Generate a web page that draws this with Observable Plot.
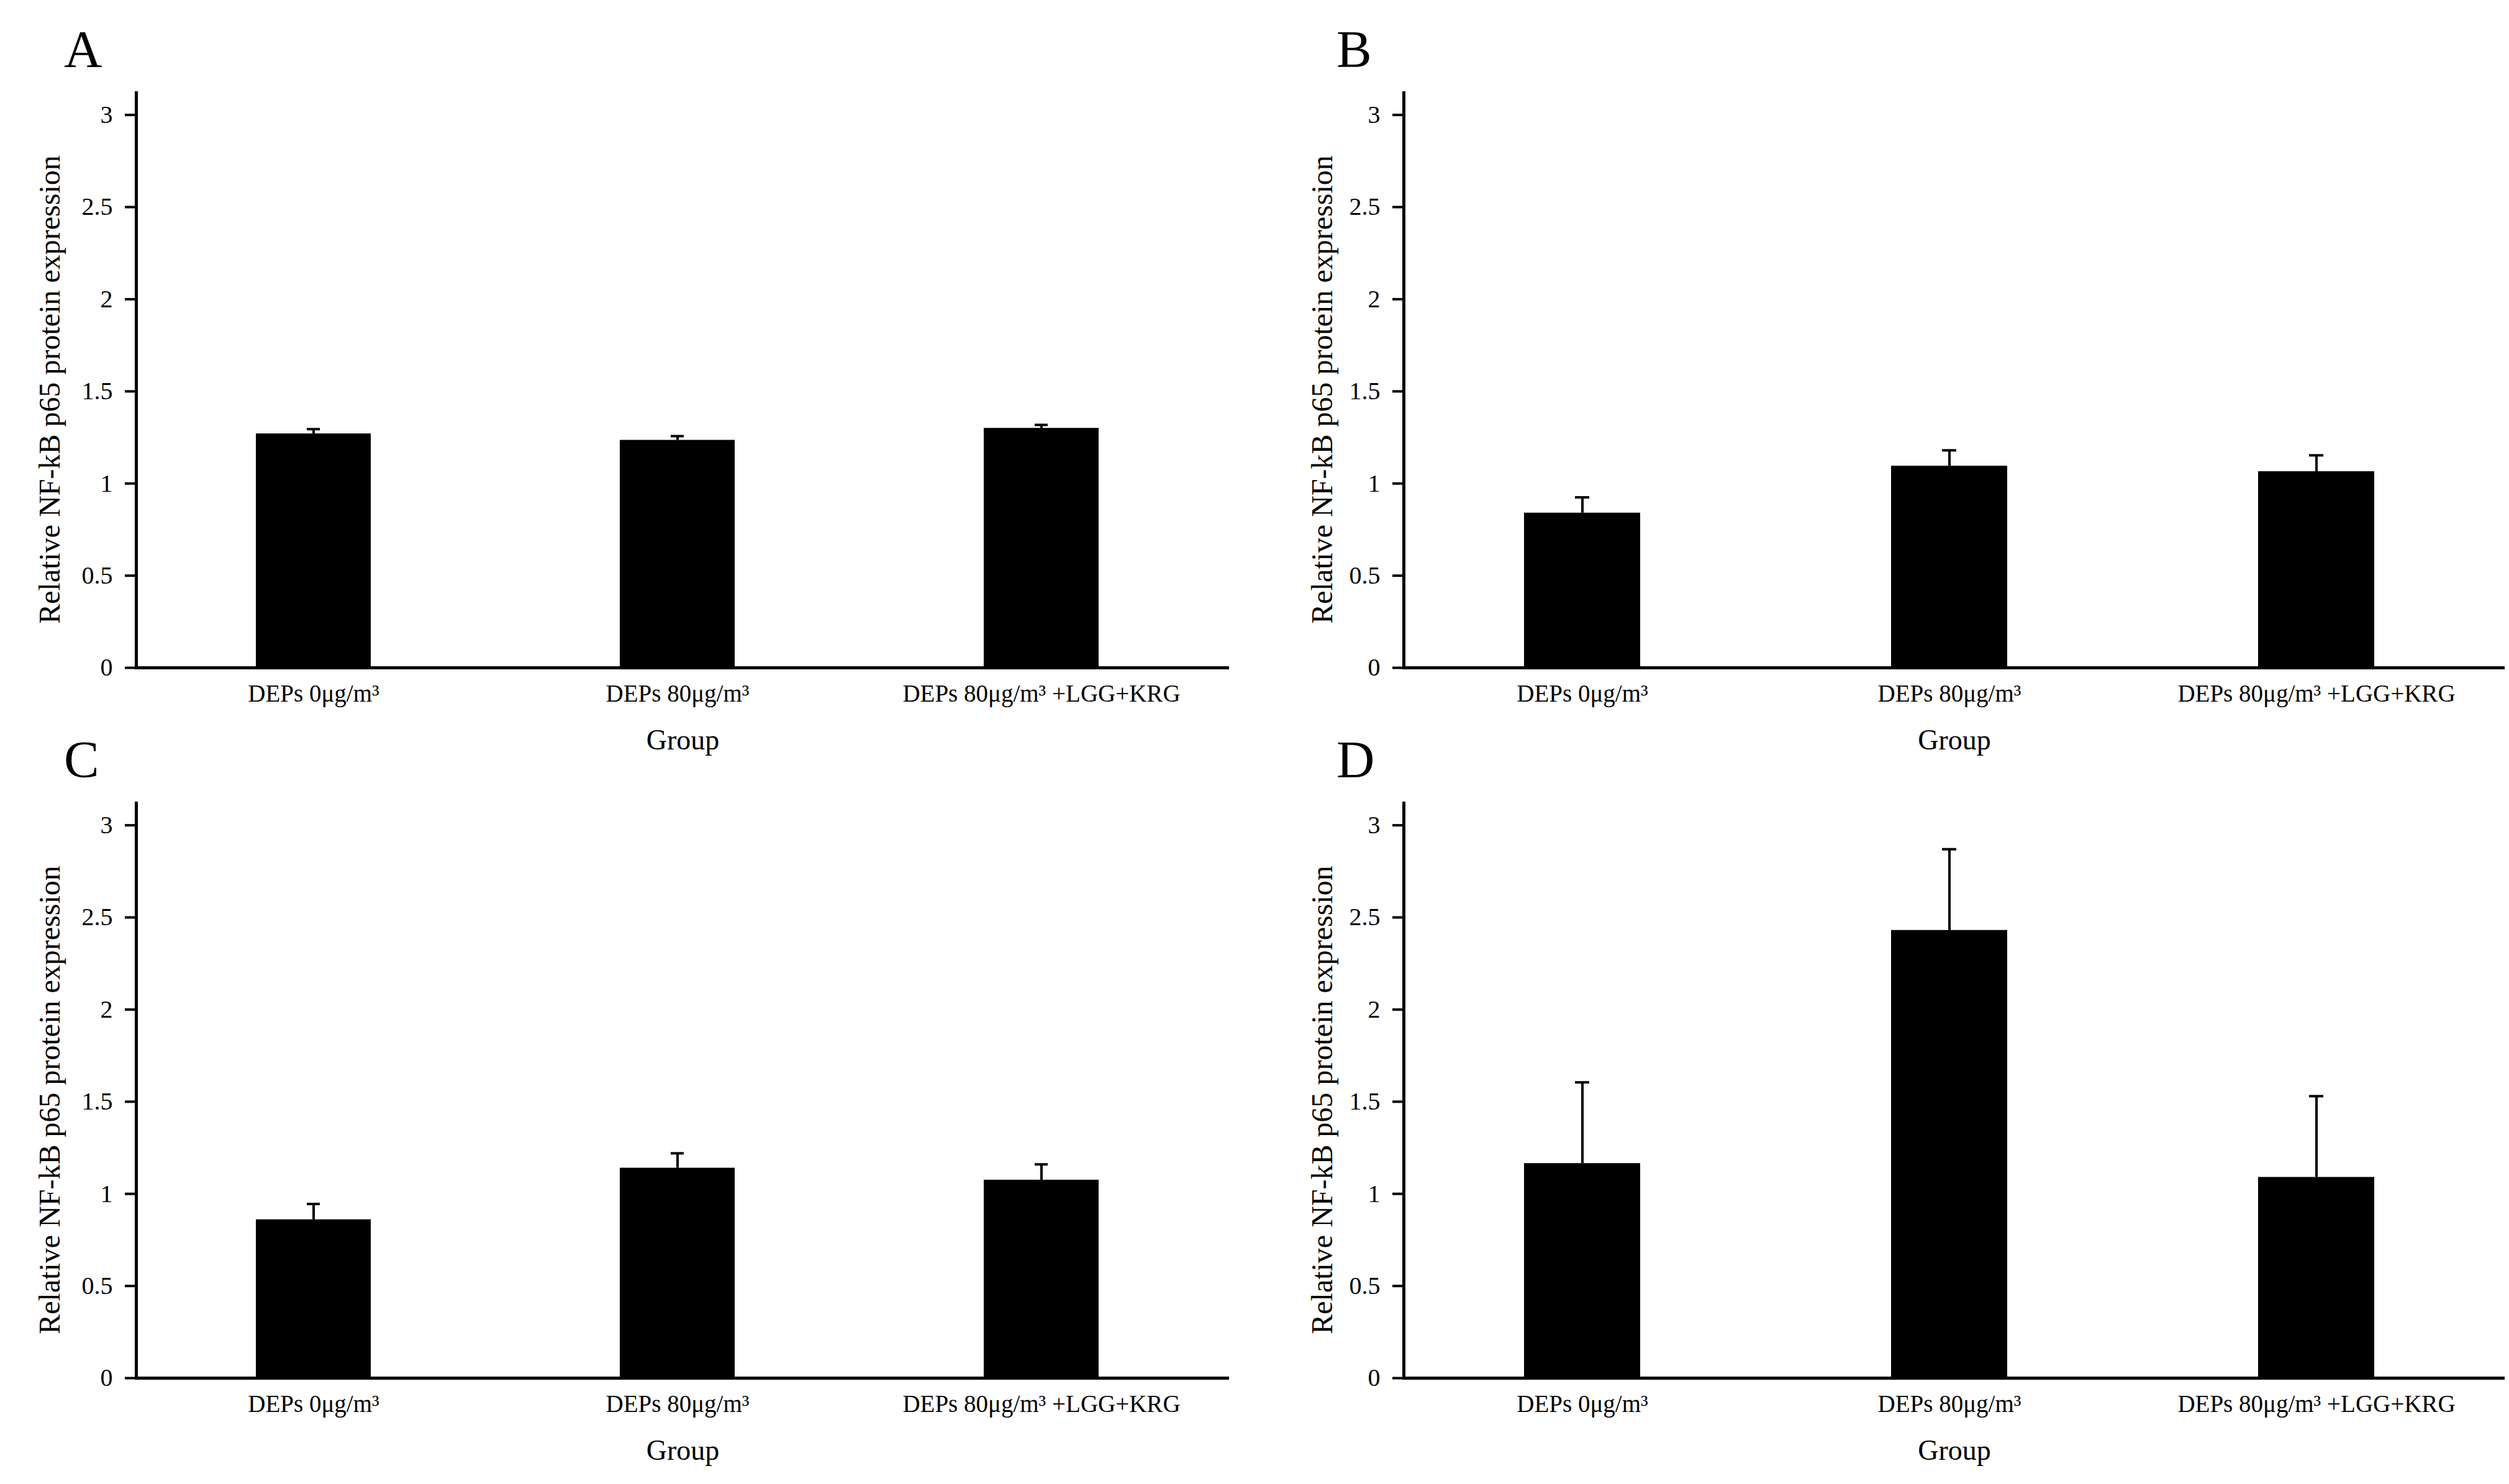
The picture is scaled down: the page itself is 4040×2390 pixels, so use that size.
<!DOCTYPE html>
<html>
<head>
<meta charset="utf-8">
<script src="https://cdn.jsdelivr.net/npm/d3@7"></script>
<script src="https://cdn.jsdelivr.net/npm/@observablehq/plot@0.6"></script>
<style>
  html, body { margin: 0; padding: 0; background: white; }
  #page { position: relative; width: 4040px; height: 2390px; background: white; color: black; font-family: "Liberation Serif", serif; overflow: hidden; }
  .panel { position: absolute; }
  .letter { position: absolute; font-size: 85px; line-height: 1; font-family: "Liberation Serif", serif; z-index: 2; }
</style>
</head>
<body>
<div id="page"></div>
<script>
// ---- data ----
const groups = ["DEPs 0μg/m³", "DEPs 80μg/m³", "DEPs 80μg/m³ +LGG+KRG"];
const yTicks = [0, 0.5, 1, 1.5, 2, 2.5, 3];
const yLabel = "Relative NF-kB p65 protein expression";
const xLabel = "Group";
const panelLetters = ["A", "B", "C", "D"];

const meanA = [1.27, 1.235, 1.30];
const sdA   = [0.025, 0.022, 0.018];
const meanB = [0.84, 1.095, 1.065];
const sdB   = [0.085, 0.085, 0.088];
const meanC = [0.86, 1.14, 1.075];
const sdC   = [0.085, 0.08, 0.085];
const meanD = [1.165, 2.43, 1.09];
const sdD   = [0.44, 0.44, 0.44];

const seriesMeans = [meanA, meanB, meanC, meanD];
const seriesSds = [sdA, sdB, sdC, sdD];

// ---- layout ----
const page = document.getElementById("page");
const fmt = d3.format("~g");

function makePanel(means, sds, isRight) {
  const data = groups.map((g, i) => ({ group: g, mean: means[i], top: means[i] + sds[i] }));
  const marginLeft = isRight ? 240 : 219;
  const marginRight = isRight ? 7 : 41;
  return Plot.plot({
    width: 2020,
    height: 1110,
    marginTop: 29,
    marginBottom: 155,
    marginLeft,
    marginRight,
    style: { fontFamily: "Liberation Serif, serif", color: "black", background: "transparent", overflow: "visible" },
    x: { domain: groups, paddingInner: 0.684, paddingOuter: 0.342, align: 0.48, axis: null },
    y: { domain: [0, 3.12], axis: null },
    marks: [
      Plot.barY(data, { x: "group", y: "mean", fill: "black" }),
      Plot.ruleX(data, { x: "group", y1: "mean", y2: "top", stroke: "black", strokeWidth: 4 }),
      Plot.tickY(data, { x: "group", y: "top", stroke: "black", strokeWidth: 4, insetLeft: 82, insetRight: 82 }),
      Plot.ruleY([0], { stroke: "black", strokeWidth: 5 }),
      Plot.frame({ anchor: "left", stroke: "black", strokeWidth: 5 }),
      Plot.axisY({ ticks: yTicks, tickFormat: fmt, tickSize: 18, tickPadding: 20, fontSize: 40, strokeWidth: 4, label: null }),
      Plot.axisX({ tickSize: 0, tickPadding: 27, fontSize: 39, label: null }),
      Plot.text([yLabel], { text: d => d, frameAnchor: "left", textAnchor: "middle", rotate: -90, dx: isRight ? -131 : -139, dy: 15, fontSize: 48 }),
      Plot.text([xLabel], { text: d => d, frameAnchor: "bottom", dy: 131, fontSize: 46 })
    ]
  });
}

const positions = [
  { left: 0, top: 120, right: false, lx: 103, ly: 37 },
  { left: 2020, top: 120, right: true, lx: 2152, ly: 37 },
  { left: 0, top: 1264, right: false, lx: 103, ly: 1181 },
  { left: 2020, top: 1264, right: true, lx: 2152, ly: 1181 }
];

positions.forEach((p, i) => {
  const div = document.createElement("div");
  div.className = "panel";
  div.style.left = p.left + "px";
  div.style.top = p.top + "px";
  div.appendChild(makePanel(seriesMeans[i], seriesSds[i], p.right));
  page.appendChild(div);
  const letter = document.createElement("div");
  letter.className = "letter";
  letter.style.left = p.lx + "px";
  letter.style.top = p.ly + "px";
  letter.textContent = panelLetters[i];
  page.appendChild(letter);
});
</script>
</body>
</html>
